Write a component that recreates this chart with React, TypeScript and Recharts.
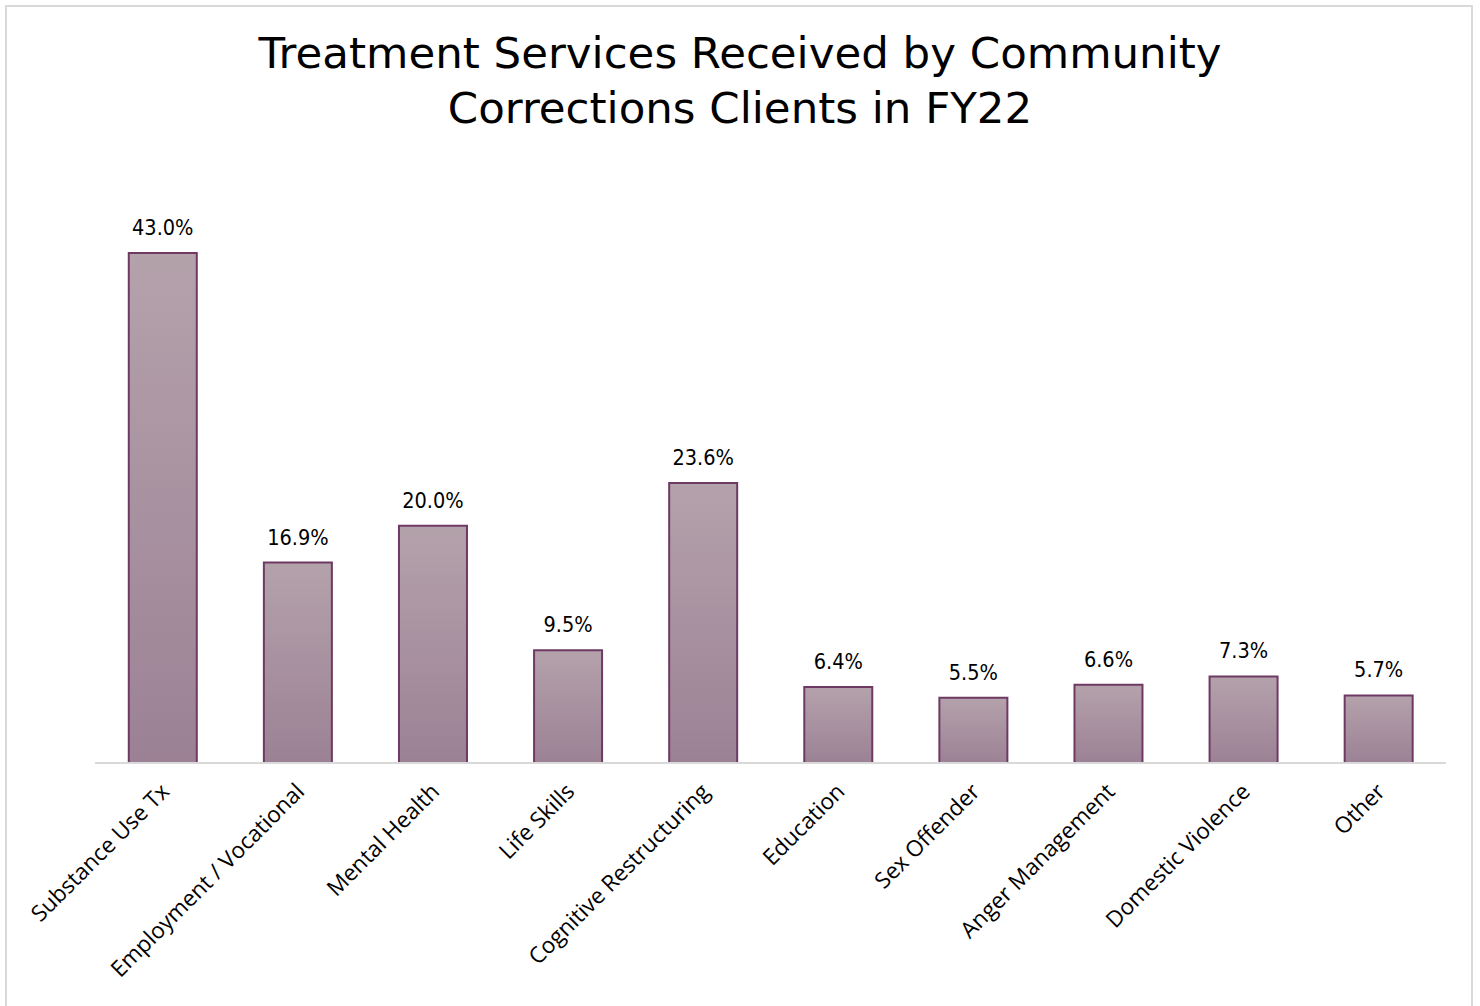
import React from "react";
import { BarChart, Bar, XAxis, YAxis, LabelList } from "recharts";

const categories = [
  "Substance Use Tx",
  "Employment / Vocational",
  "Mental Health",
  "Life Skills",
  "Cognitive Restructuring",
  "Education",
  "Sex Offender",
  "Anger Management",
  "Domestic Violence",
  "Other",
];
const values = [43.0, 16.9, 20.0, 9.5, 23.6, 6.4, 5.5, 6.6, 7.3, 5.7];
const titleLines = ["Treatment Services Received by Community", "Corrections Clients in FY22"];

const data = categories.map((c, i) => ({ name: c, value: values[i] }));

const Tick = (props: any) => {
  const { x, y, payload } = props;
  return (
    <g transform={`translate(${x + 8},${y + 22})`}>
      <text
        transform="rotate(-45)"
        textAnchor="end"
        fontFamily="'Open Sans', sans-serif"
        fontSize={22.5}
        fill="#000"
      >
        {payload.value}
      </text>
    </g>
  );
};

export default function App() {
  return (
    <div style={{ position: "absolute", left: 0, top: 0, width: 1480, height: 1006, background: "#fff", overflow: "hidden" }}>
      <div style={{ position: "absolute", left: 5, top: 5, width: 1468, height: 1010, border: "2px solid #d9d9d9", boxSizing: "border-box" }} />
      <div
        style={{
          position: "absolute",
          left: 0,
          top: 26,
          width: 1480,
          textAlign: "center",
          fontFamily: "'DejaVu Sans', sans-serif",
          fontSize: 43.5,
          lineHeight: "55px",
          color: "#000",
        }}
      >
        {titleLines.map((t) => (
          <div key={t}>{t}</div>
        ))}
      </div>
      <div style={{ position: "absolute", left: 0, top: 0 }}>
        <BarChart width={1480} height={1006} data={data} margin={{ top: 170, right: 34, bottom: 43, left: 95 }} barCategoryGap="25%">
          <defs>
            <linearGradient id="barGrad" x1="0" y1="0" x2="0" y2="1">
              <stop offset="0%" stopColor="#b4a2ab" />
              <stop offset="100%" stopColor="#9c8195" />
            </linearGradient>
          </defs>
          <XAxis
            dataKey="name"
            interval={0}
            height={200}
            tickLine={false}
            axisLine={{ stroke: "#d9d9d9", strokeWidth: 2 }}
            tick={<Tick />}
          />
          <YAxis hide domain={[0, 50]} />
          <Bar dataKey="value" fill="url(#barGrad)" stroke="#6e3a63" strokeWidth={2} isAnimationActive={false}>
            <LabelList
              dataKey="value"
              position="top"
              offset={18}
              formatter={(v: any) => `${Number(v).toFixed(1)}%`}
              style={{ fontFamily: "'DejaVu Sans Condensed', 'DejaVu Sans', sans-serif", fontStretch: "condensed", fontSize: 21.5, fill: "#000" }}
            />
          </Bar>
        </BarChart>
      </div>
    </div>
  );
}
